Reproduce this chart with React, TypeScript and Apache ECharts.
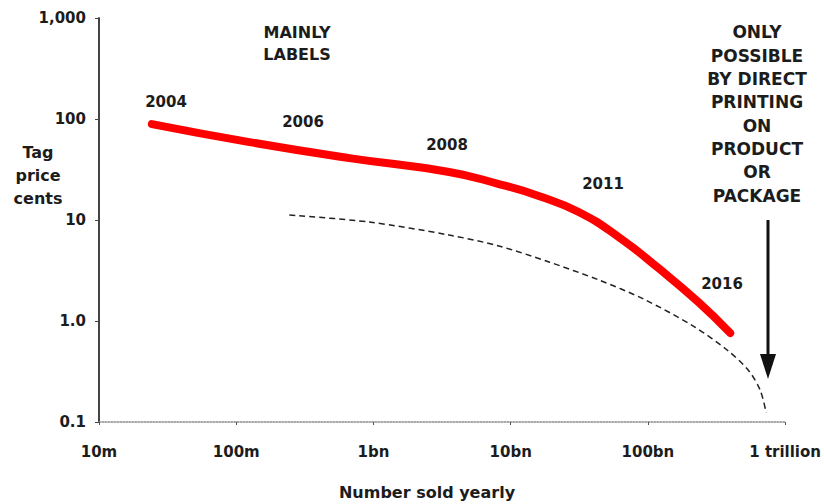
import React, { useEffect, useRef } from "react";
import * as echarts from "echarts";

// Number sold yearly (units) vs tag price (cents)
const redX = [2.43e7, 1.25e8, 6.67e8, 3.56e9, 8.2e9, 1.6e10, 3.13e10, 6.11e10, 1.19e11, 2.33e11, 3.98e11];
const redY = [89, 59, 41, 29.9, 22.7, 17.3, 12.0, 6.79, 3.35, 1.54, 0.76];

const dashX = [2.44e8, 9.3e8, 3.56e9, 8.2e9, 1.9e10, 4.38e10, 9.29e10, 2.14e11, 3.78e11, 5.38e11, 6.58e11, 7.28e11];
const dashY = [11.2, 9.55, 7.1, 5.53, 3.84, 2.55, 1.65, 0.891, 0.516, 0.327, 0.207, 0.123];

const xTickLabels = ["10m", "100m", "1bn", "10bn", "100bn", "1 trillion"]; // 1e7 .. 1e12
const yTickLabels = ["0.1", "1.0", "10", "100", "1,000"]; // 1e-1 .. 1e3

const yearLabels = ["2004", "2006", "2008", "2011", "2016"];
const yearPos = [
  [166, 102],
  [303, 122],
  [447, 145],
  [603, 184],
  [722, 284],
];

const mainlyText = "MAINLY\nLABELS";
const onlyText = "ONLY\nPOSSIBLE\nBY DIRECT\nPRINTING\nON\nPRODUCT\nOR\nPACKAGE";
const yName = "Tag\nprice\ncents";
const xName = "Number sold yearly";

const FONT = "'DejaVu Sans', Verdana, sans-serif";
const INK = "#1c1c1c";

export default function App() {
  const ref = useRef<HTMLDivElement>(null);

  useEffect(() => {
    document.body.style.margin = "0";
    if (!ref.current) return;
    const chart = echarts.init(ref.current, undefined, { renderer: "svg" });

    const txt = (text: string, x: number, y: number, size: number, lh?: number) => ({
      type: "text",
      x,
      y,
      style: {
        text,
        fill: INK,
        fontFamily: FONT,
        fontWeight: "bold",
        fontSize: size,
        lineHeight: lh ?? size + 4,
        align: "center",
        verticalAlign: "middle",
      },
    });

    chart.setOption({
      animation: false,
      backgroundColor: "#ffffff",
      grid: { left: 99, right: 37, top: 18, bottom: 82, containLabel: false },
      xAxis: {
        type: "log",
        logBase: 10,
        min: 1e7,
        max: 1e12,
        axisLine: { show: true, lineStyle: { color: "#8a8a8a", type: "dotted", width: 1.5 } },
        axisTick: { show: true, length: 3, inside: false, lineStyle: { color: "#555" } },
        splitLine: { show: false },
        minorTick: { show: false },
        axisLabel: {
          margin: 22,
          color: INK,
          fontFamily: FONT,
          fontWeight: "bold",
          fontSize: 15,
          formatter: (v: number) => xTickLabels[Math.round(Math.log10(v)) - 7] ?? "",
        },
      },
      yAxis: {
        type: "log",
        logBase: 10,
        min: 0.1,
        max: 1000,
        axisLine: { show: true, lineStyle: { color: "#444", width: 2 } },
        axisTick: { show: true, length: 4, lineStyle: { color: "#444", width: 1 } },
        splitLine: { show: false },
        axisLabel: {
          margin: 13,
          color: INK,
          fontFamily: FONT,
          fontWeight: "bold",
          fontSize: 15,
          formatter: (v: number) => yTickLabels[Math.round(Math.log10(v)) + 1] ?? "",
        },
      },
      series: [
        {
          type: "line",
          data: dashX.map((x, i) => [x, dashY[i]]),
          smooth: 0.3,
          showSymbol: false,
          symbol: "none",
          lineStyle: { color: "#222", width: 1.5, type: [6, 4] },
          z: 2,
        },
        {
          type: "line",
          data: redX.map((x, i) => [x, redY[i]]),
          smooth: 0.5,
          showSymbol: false,
          symbol: "none",
          lineStyle: { color: "#ff0000", width: 8, cap: "round", join: "round" },
          z: 3,
        },
      ],
      graphic: [
        ...yearLabels.map((t, i) => txt(t, yearPos[i][0], yearPos[i][1], 15)),
        txt(mainlyText, 297, 43, 16, 22),
        txt(onlyText, 757, 114, 17, 23.3),
        txt(yName, 38, 175, 16, 23),
        txt(xName, 427, 492, 16),
        {
          type: "line",
          shape: { x1: 768, y1: 220, x2: 768, y2: 360 },
          style: { stroke: "#111", lineWidth: 3 },
        },
        {
          type: "polygon",
          shape: { points: [[760, 354], [776, 354], [768, 379]] },
          style: { fill: "#111" },
        },
      ],
    });

    return () => chart.dispose();
  }, []);

  return <div ref={ref} style={{ width: 824, height: 504 }} />;
}
